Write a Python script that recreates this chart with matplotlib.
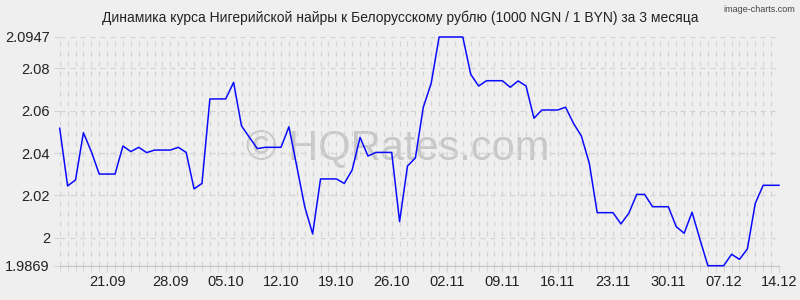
import matplotlib.pyplot as plt

plt.rcParams['font.family'] = ['Liberation Sans', 'DejaVu Sans']

title = "Динамика курса Нигерийской найры к Белорусскому рублю (1000 NGN / 1 BYN) за 3 месяца"

# daily rate, 92 points
rates = [
    2.0517, 2.0245, 2.0273, 2.0496, 2.0407, 2.0301, 2.0301, 2.0301, 2.0433, 2.0407,
    2.0427, 2.0402, 2.0414, 2.0414, 2.0414, 2.0427, 2.0403, 2.0231, 2.0257, 2.0655,
    2.0655, 2.0655, 2.0733, 2.0528, 2.0474, 2.0421, 2.0427, 2.0427, 2.0427, 2.0524,
    2.0336, 2.0147, 2.0019, 2.0278, 2.0278, 2.0278, 2.0257, 2.0320, 2.0474, 2.0386,
    2.0403, 2.0403, 2.0403, 2.0077, 2.0339, 2.0377, 2.0616, 2.0729, 2.0947, 2.0947,
    2.0947, 2.0947, 2.0771, 2.0716, 2.0741, 2.0741, 2.0741, 2.0710, 2.0740, 2.0716,
    2.0564, 2.0603, 2.0603, 2.0603, 2.0616, 2.0540, 2.0480, 2.0352, 2.0119, 2.0119,
    2.0119, 2.0066, 2.0116, 2.0205, 2.0205, 2.0147, 2.0147, 2.0147, 2.0053, 2.0022,
    2.0121, 1.9993, 1.9869, 1.9869, 1.9869, 1.9923, 1.9899, 1.9948, 2.0163, 2.0248,
    2.0248, 2.0248,
]

date_labels = ["21.09", "28.09", "05.10", "12.10", "19.10", "26.10", "02.11",
               "09.11", "16.11", "23.11", "30.11", "07.12", "14.12"]
date_idx = [6, 14, 21, 28, 35, 42, 49, 56, 63, 70, 77, 84, 91]

y_ticks = [1.9869, 2.0, 2.02, 2.04, 2.06, 2.08, 2.0947]
y_labels = ["1.9869", "2", "2.02", "2.04", "2.06", "2.08", "2.0947"]

bg = '#efefef'
grid_c = '#d4d4d4'

fig = plt.figure(figsize=(8, 3), dpi=100, facecolor=bg)
ax = fig.add_axes([59.7 / 800, 34.3 / 300, 719.3 / 800, 228.7 / 300])
ax.set_facecolor(bg)

x = list(range(len(rates)))
ax.plot(x, rates, color='#0a0aff', lw=1.1, clip_on=False, zorder=3)

ax.set_xlim(0, len(rates) - 1)
ax.set_ylim(y_ticks[0], y_ticks[-1])
ax.set_xticks(x, minor=True)
ax.set_xticks(date_idx, date_labels)
ax.set_yticks(y_ticks, y_labels)

ax.grid(True, which='both', color=grid_c, linestyle=(0, (4, 4)), lw=0.9)
for side in ['top', 'right', 'left']:
    ax.spines[side].set_visible(False)
ax.spines['bottom'].set_color('#c4c4c4')
ax.tick_params(which='both', length=4, color=grid_c, labelsize=10.5,
               labelcolor='#222222', pad=3)

# watermarks
ax.text(398 / 800, 1 - 148 / 300, "© HQRates.com", transform=fig.transFigure,
        ha='center', va='center', fontsize=30, color='#c8c8c8', zorder=1)
fig.text(0.994, 1 - 10 / 300, "image-charts.com", ha='right', va='center',
         fontsize=6.5, color='#444444')

fig.text(0.5, 1 - 18 / 300, title, ha='center', va='center', fontsize=10,
         color='#222222')

fig.savefig('out.png', dpi=100, facecolor=bg)
